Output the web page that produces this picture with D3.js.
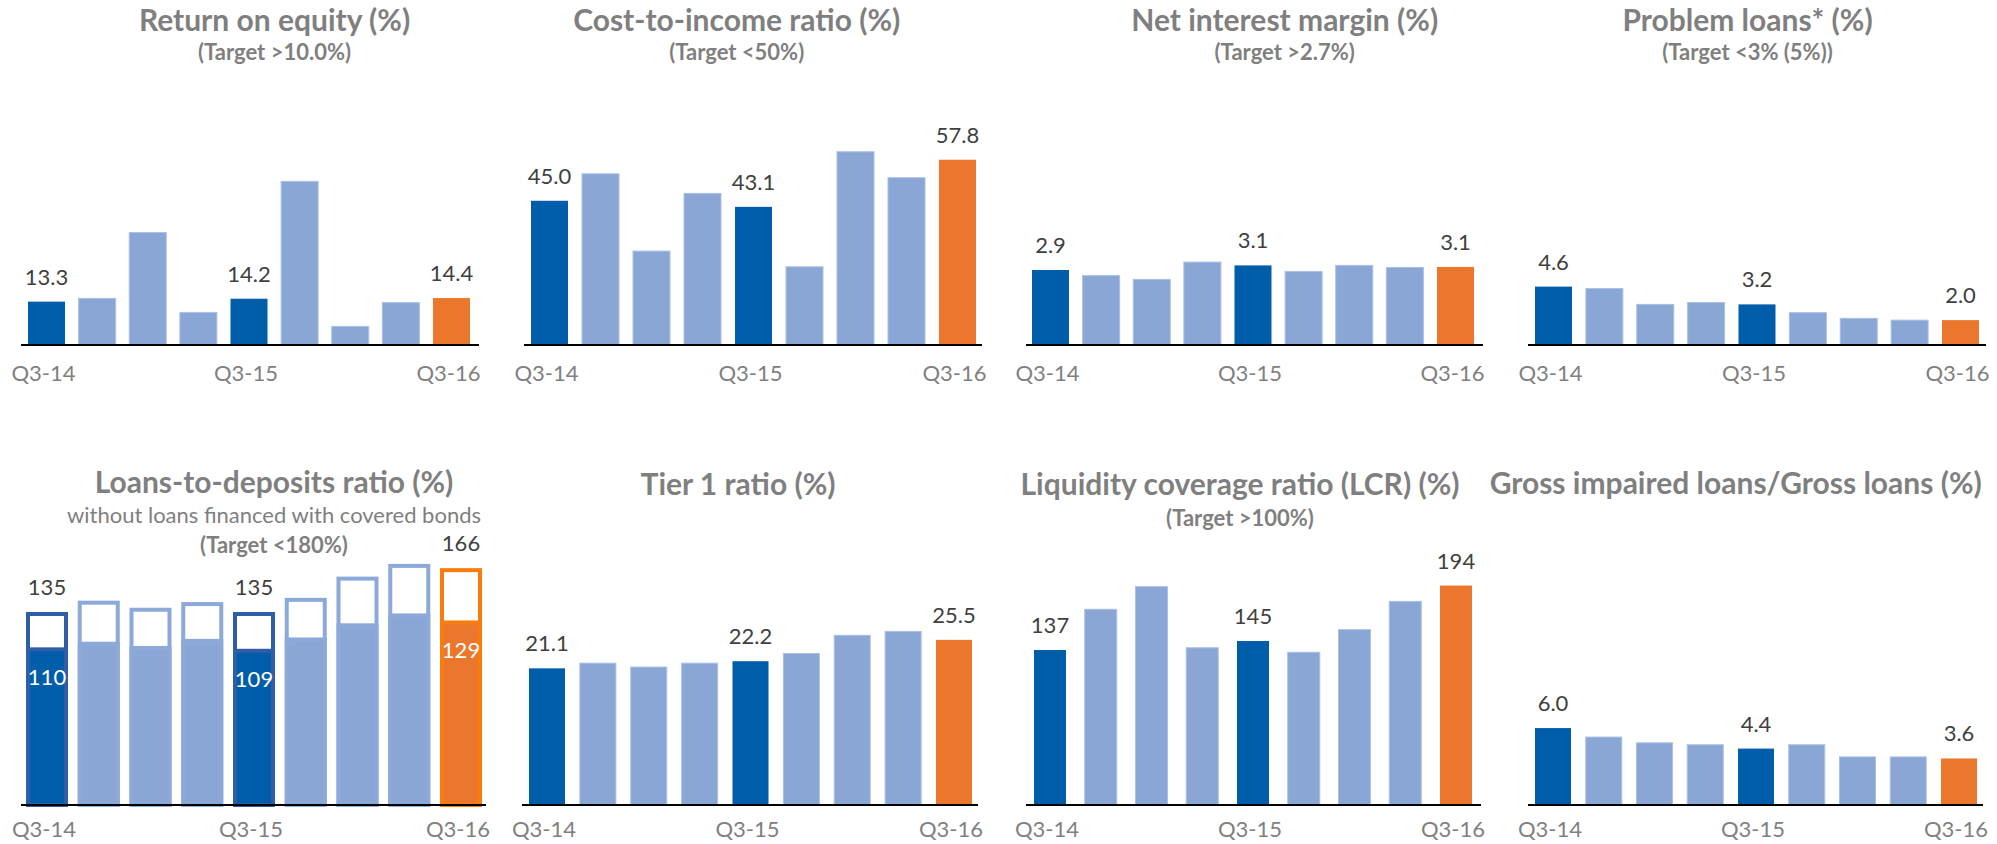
<!DOCTYPE html>
<html>
<head>
<meta charset="utf-8">
<script src="https://cdn.jsdelivr.net/npm/d3@7"></script>
<style>
  html, body { margin: 0; padding: 0; background: #ffffff; }
  svg { display: block; }
  text { font-family: Lato, "Open Sans", sans-serif; }
</style>
</head>
<body>
<svg id="chart" width="1997" height="844"></svg>
<script>
// ---------------- DATA ----------------
const quarters = ["Q3-14", "Q4-14", "Q1-15", "Q2-15", "Q3-15", "Q4-15", "Q1-16", "Q2-16", "Q3-16"];
const tickLabels = ["Q3-14", "Q3-15", "Q3-16"];
const labelledQuarters = ["Q3-14", "Q3-15", "Q3-16"];

const roeValues            = [13.3, 14.3, 34.5, 10.0, 14.2, 50.2, 5.7, 13.0, 14.4];
const costIncomeValues     = [45.0, 53.4, 29.3, 47.3, 43.1, 24.4, 60.3, 52.2, 57.8];
const nimValues            = [2.94, 2.72, 2.57, 3.25, 3.12, 2.88, 3.12, 3.04, 3.06];
const problemLoanValues    = [4.6, 4.45, 3.2, 3.35, 3.2, 2.55, 2.1, 1.96, 1.96];
const loansDepositsTotal   = [135, 143, 138, 142, 135, 145, 160, 169, 166];
const loansDepositsExCB    = [110, 114, 111, 116, 109, 117, 127, 134, 129];
const tier1Values          = [21.1, 21.9, 21.3, 21.9, 22.2, 23.4, 26.2, 26.8, 25.5];
const lcrValues            = [137, 173, 193, 139, 145, 135, 155, 180, 194];
const grossImpairedValues  = [6.0, 5.3, 4.85, 4.7, 4.4, 4.7, 3.75, 3.75, 3.63];

// ---------------- STYLE ----------------
const C_DARK = "#005DAA", C_LIGHT = "#8AA6D5", C_ORANGE = "#EA772C";
const C_DARK_LINE = "#2F5EA8", C_LIGHT_LINE = "#8CA9DA", C_ORANGE_LINE = "#F97D0C";
const C_TITLE = "#7F7F7F", C_LABEL = "#404040", C_AXIS = "#808080";

function fillFor(q) { return q === "Q3-16" ? C_ORANGE : (q === "Q3-14" || q === "Q3-15") ? C_DARK : C_LIGHT; }
function lineFor(q) { return q === "Q3-16" ? C_ORANGE_LINE : (q === "Q3-14" || q === "Q3-15") ? C_DARK_LINE : C_LIGHT_LINE; }

const fmt1 = d3.format(".1f"), fmt0 = d3.format(".0f");

// ---------------- PANELS (layout) ----------------
const TOP_BASE = 345, BOT_BASE = 805, PLOT_H = 250;
const panels = [
  { title: "Return on equity (%)", subs: [{t: "(Target >10.0%)", bold: true}], cx: 274.5, ty: 31, subY: [60],
    values: roeValues, fmt: fmt1, ymax: 76.7, base: TOP_BASE, barL: 28, barR: 470, bw: 37, axL: 21, axR: 479 },
  { title: "Cost-to-income ratio (%)", subs: [{t: "(Target <50%)", bold: true}], cx: 736.7, ty: 31, subY: [60],
    values: costIncomeValues, fmt: fmt1, ymax: 78, base: TOP_BASE, barL: 531, barR: 976, bw: 37, axL: 524, axR: 982 },
  { title: "Net interest margin (%)", subs: [{t: "(Target >2.7%)", bold: true}], cx: 1284.7, ty: 31, subY: [60],
    values: nimValues, fmt: fmt1, ymax: 9.8, base: TOP_BASE, barL: 1032, barR: 1474, bw: 37, axL: 1026, axR: 1483 },
  { title: "Problem loans* (%)", subs: [{t: "(Target <3% (5%))", bold: true}], cx: 1747.5, ty: 31, subY: [60],
    values: problemLoanValues, fmt: fmt1, ymax: 19.7, base: TOP_BASE, barL: 1535, barR: 1979, bw: 37, axL: 1528, axR: 1986 },
  { title: "Loans-to-deposits ratio (%)", subs: [{t: "without loans financed with covered bonds", bold: false}, {t: "(Target <180%)", bold: true}],
    cx: 274, ty: 493, subY: [523, 553], stacked: true,
    values: loansDepositsTotal, inner: loansDepositsExCB, fmt: fmt0, ymax: 176.7, base: BOT_BASE, barL: 28, barR: 480, bw: 38, axL: 21, axR: 486 },
  { title: "Tier 1 ratio (%)", subs: [], cx: 738, ty: 495, subY: [],
    values: tier1Values, fmt: fmt1, ymax: 38.6, base: BOT_BASE, barL: 529, barR: 972, bw: 36, axL: 522, axR: 978 },
  { title: "Liquidity coverage ratio (LCR) (%)", subs: [{t: "(Target >100%)", bold: true}], cx: 1240, ty: 495, subY: [526],
    values: lcrValues, fmt: fmt0, ymax: 221, base: BOT_BASE, barL: 1034, barR: 1472, bw: 32, axL: 1026, axR: 1481 },
  { title: "Gross impaired loans/Gross loans (%)", subs: [], cx: 1735.7, ty: 494, subY: [],
    values: grossImpairedValues, fmt: fmt1, ymax: 19.5, base: BOT_BASE, barL: 1535, barR: 1977, bw: 36, axL: 1528, axR: 1983 }
];

const svg = d3.select("#chart");

panels.forEach(p => {
  const g = svg.append("g");
  const span = p.barR - p.barL;
  const pad = (span - 9 * p.bw) / (span - p.bw);
  const x = d3.scaleBand().domain(quarters).range([p.barL, p.barR]).paddingInner(pad).paddingOuter(0);
  const y = d3.scaleLinear().domain([0, p.ymax]).range([p.base, p.base - PLOT_H]);
  const rows = quarters.map((q, i) => ({ q, v: p.values[i], inner: p.inner ? p.inner[i] : null }));

  g.append("text").attr("x", p.cx).attr("y", p.ty).attr("text-anchor", "middle")
    .attr("font-size", 30).attr("font-weight", "bold").attr("fill", C_TITLE).text(p.title);
  p.subs.forEach((s, i) => {
    g.append("text").attr("x", p.cx).attr("y", p.subY[i]).attr("text-anchor", "middle")
      .attr("font-size", 22).attr("font-weight", s.bold ? "bold" : "normal")
      .attr("fill", C_TITLE).text(s.t);
  });

  if (p.stacked) {
    g.selectAll("rect.outer").data(rows).join("rect").attr("class", "outer")
      .attr("x", d => x(d.q)).attr("width", x.bandwidth())
      .attr("y", d => y(d.v)).attr("height", d => y(0) - y(d.v))
      .attr("fill", "#ffffff").attr("stroke", d => lineFor(d.q)).attr("stroke-width", 4);
    g.selectAll("rect.inner").data(rows).join("rect").attr("class", "inner")
      .attr("x", d => x(d.q)).attr("width", x.bandwidth())
      .attr("y", d => y(d.inner)).attr("height", d => y(0) - y(d.inner))
      .attr("fill", d => fillFor(d.q)).attr("stroke", d => lineFor(d.q)).attr("stroke-width", 4);
    g.selectAll("text.inlab").data(rows.filter(d => labelledQuarters.includes(d.q))).join("text")
      .attr("class", "inlab")
      .attr("x", d => x(d.q) + x.bandwidth() / 2).attr("y", d => y(d.inner) + 36)
      .attr("text-anchor", "middle").attr("font-size", 22).attr("fill", "#ffffff")
      .text(d => p.fmt(d.inner));
  } else {
    g.selectAll("rect.bar").data(rows).join("rect").attr("class", "bar")
      .attr("x", d => x(d.q)).attr("width", x.bandwidth())
      .attr("y", d => y(d.v)).attr("height", d => y(0) - y(d.v))
      .attr("fill", d => fillFor(d.q))
      .attr("stroke", d => fillFor(d.q) === C_LIGHT ? "#A9C0E6" : "none").attr("stroke-width", 1);
  }

  g.selectAll("text.vlab").data(rows.filter(d => labelledQuarters.includes(d.q))).join("text")
    .attr("class", "vlab")
    .attr("x", d => x(d.q) + x.bandwidth() / 2).attr("y", d => y(d.v) - (p.stacked ? 19 : 17))
    .attr("text-anchor", "middle").attr("font-size", 22).attr("fill", C_LABEL)
    .text(d => p.fmt(d.v));

  g.append("line").attr("x1", p.axL).attr("x2", p.axR).attr("y1", p.base).attr("y2", p.base)
    .attr("stroke", "#000000").attr("stroke-width", 2);

  const ax = g.append("g").attr("transform", `translate(0,${p.base})`)
    .call(d3.axisBottom(x).tickValues(tickLabels).tickSize(0));
  ax.select(".domain").remove();
  ax.selectAll("text").attr("dy", null).attr("y", p.base === TOP_BASE ? 36 : 32).attr("dx", -3)
    .attr("font-size", 22).attr("font-family", "Lato, 'Open Sans', sans-serif").attr("fill", C_AXIS);
});
</script>
</body>
</html>
